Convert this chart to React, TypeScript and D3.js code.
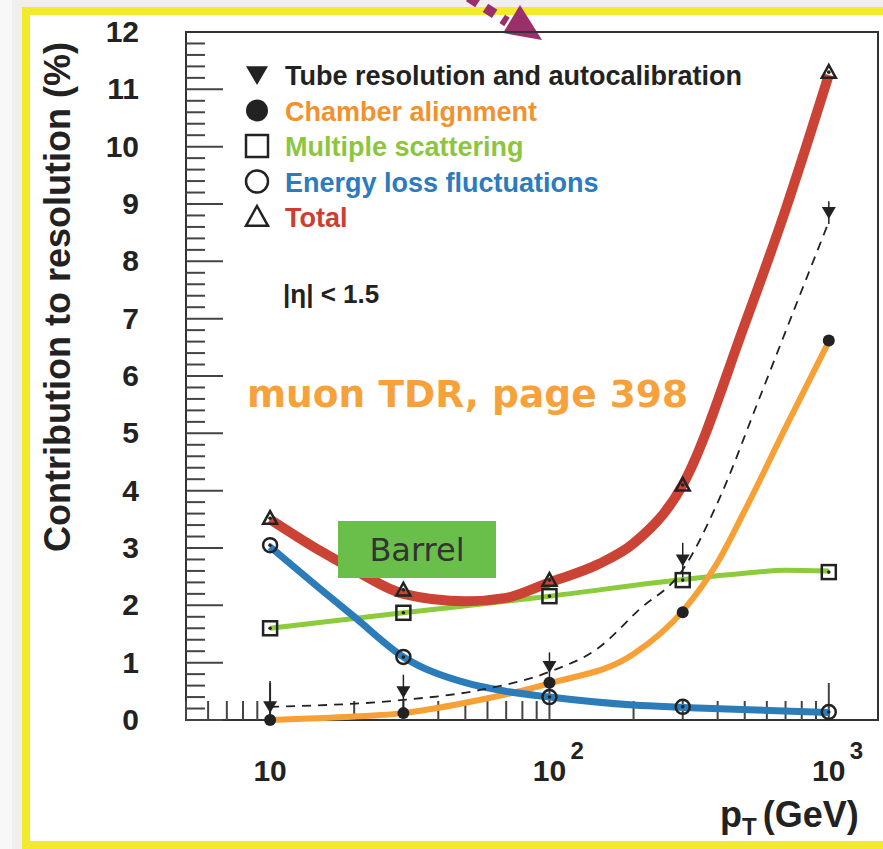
import React from "react";
import * as d3 from "d3";

// chart values
const ptPoints = [10, 30, 100, 300, 1000];
const tubeValues = [0.23, 0.49, 0.93, 2.79, 8.85];
const chamberValues = [0.0, 0.12, 0.65, 1.88, 6.62];
const scatterValues = [1.6, 1.87, 2.16, 2.44, 2.58];
const elossValues = [3.05, 1.1, 0.4, 0.23, 0.14];
const totalValues = [3.52, 2.27, 2.44, 4.1, 11.3];

const tubeErr = [0.45, 0.3, 0.25, 0.3, 0.2];

// fitted curves, as drawn
const tubeCurvePt = [10, 30, 56, 100, 150, 209, 300, 404, 561, 776, 1000];
const tubeCurveVal = [0.23, 0.35, 0.52, 0.84, 1.26, 1.92, 2.62, 3.84, 5.58, 7.33, 8.69];
const totalCurvePt = [10, 15, 20, 30, 50, 70, 100, 150, 200, 300, 500, 700, 1000];
const totalCurveVal = [3.5, 2.96, 2.62, 2.2, 2.07, 2.13, 2.4, 2.72, 3.08, 4.1, 6.9, 8.9, 11.25];
const chamberCurvePt = [10, 20, 30, 50, 100, 200, 300, 400, 500, 700, 1000];
const chamberCurveVal = [0.0, 0.06, 0.12, 0.3, 0.64, 1.15, 1.9, 2.75, 3.65, 5.1, 6.6];
const scatterCurvePt = [10, 30, 100, 300, 500, 700, 1000];
const scatterCurveVal = [1.6, 1.87, 2.16, 2.45, 2.56, 2.61, 2.6];
const elossCurvePt = [10, 15, 20, 30, 50, 70, 100, 200, 300, 1000];
const elossCurveVal = [3.02, 2.3, 1.8, 1.1, 0.65, 0.5, 0.4, 0.26, 0.22, 0.13];

const yTicks = d3.range(0, 13);
const legendLabels = [
  "Tube resolution and autocalibration",
  "Chamber alignment",
  "Multiple scattering",
  "Energy loss fluctuations",
  "Total",
];
const legendColors = ["#222222", "#f0922e", "#8cc63f", "#2b7bbd", "#c9402f"];

const W = 883;
const H = 849;
const left = 186, right = 878, top = 32, bottom = 720;
const font = "'Liberation Sans', Arial, Helvetica, sans-serif";
const comic = "'Comic Sans MS', 'DejaVu Sans', sans-serif";

function Marker({ kind, cx, cy, s }: { kind: string; cx: number; cy: number; s: number }) {
  const h = s / 2;
  if (kind === "down")
    return <path d={`M${cx - h},${cy - h * 0.8}L${cx + h},${cy - h * 0.8}L${cx},${cy + h * 0.9}Z`} fill="#222" />;
  if (kind === "dot") return <circle cx={cx} cy={cy} r={h} fill="#222" />;
  if (kind === "square")
    return <rect x={cx - h} y={cy - h} width={s} height={s} fill="none" stroke="#222" strokeWidth={2.5} />;
  if (kind === "circle") return <circle cx={cx} cy={cy} r={h} fill="none" stroke="#222" strokeWidth={2.5} />;
  return <path d={`M${cx},${cy - h}L${cx + h},${cy + h * 0.8}L${cx - h},${cy + h * 0.8}Z`} fill="none" stroke="#222" strokeWidth={2.5} />;
}

export default function App() {
  const x = d3.scaleLog().domain([5, 1500]).range([left, right]);
  const y = d3.scaleLinear().domain([0, 12]).range([bottom, top]);

  const line = d3
    .line<[number, number]>()
    .x((d) => x(d[0]))
    .y((d) => y(d[1]))
    .curve(d3.curveMonotoneX);
  const zip = (a: number[], b: number[]) => a.map((v, i) => [v, b[i]] as [number, number]);

  const xTicks = x.ticks().filter((t) => t >= 5 && t <= 1500);
  const yMinor = d3.range(0, 60).map((i) => i * 0.2);
  const isMajor = (t: number) => Math.abs(Math.log10(t) - Math.round(Math.log10(t))) < 1e-6;

  const series = [
    { kind: "down", vals: tubeValues },
    { kind: "dot", vals: chamberValues },
    { kind: "square", vals: scatterValues },
    { kind: "circle", vals: elossValues },
    { kind: "up", vals: totalValues },
  ];

  return (
    <svg width={W} height={H} style={{ position: "absolute", left: 0, top: 0 }} fontFamily={font}>
      <rect width={W} height={H} fill="#f0efed" />
      <rect x={0} y={0} width={12} height={H} fill="#f8f8f8" />
      <rect x={26} y={11} width={W} height={834} fill="#fff" stroke="#f2ea2c" strokeWidth={8} />

      {/* arrow on top */}
      <line x1={452} y1={-14} x2={507} y2={22} stroke="#9b2f6a" strokeWidth={10} strokeDasharray="11 9" />
      <path d="M520,5L503,33L542,40Z" fill="#9b2f6a" />

      {/* frame */}
      <rect x={left} y={top} width={right - left} height={bottom - top} fill="none" stroke="#333" strokeWidth={2} />

      {/* y ticks */}
      {yMinor.map((t) => (
        <line key={"ym" + t} x1={left} x2={left + (Math.abs(t - Math.round(t)) < 1e-6 ? 37 : 19)} y1={y(t)} y2={y(t)} stroke="#444" strokeWidth={2} />
      ))}
      {yTicks.map((t) => (
        <text key={"yl" + t} x={139} y={y(t) + 10} textAnchor="end" fontSize={30} fontWeight="bold" fill="#222">
          {t}
        </text>
      ))}

      {/* x ticks */}
      {xTicks.map((t) => (
        <line key={"xt" + t} x1={x(t)} x2={x(t)} y1={bottom} y2={bottom - (isMajor(t) ? 37 : 19)} stroke="#444" strokeWidth={2} />
      ))}
      <text x={x(10)} y={781} textAnchor="middle" fontSize={30} fontWeight="bold" fill="#222">10</text>
      {[100, 1000].map((t) => (
        <g key={"xl" + t}>
          <text x={x(t)} y={781} textAnchor="middle" fontSize={30} fontWeight="bold" fill="#222">10</text>
          <text x={x(t) + 21} y={759} fontSize={24} fontWeight="bold" fill="#222">{Math.round(Math.log10(t))}</text>
        </g>
      ))}

      {/* axis titles */}
      <text transform="translate(70,297) rotate(-90)" textAnchor="middle" fontSize={36} fontWeight="bold" fill="#222">
        Contribution to resolution (%)
      </text>
      <text x={720} y={827} fontSize={36} fontWeight="bold" fill="#222">
        p<tspan fontSize={24} dy={8}>T</tspan>
        <tspan dy={-8} dx={6}>(GeV)</tspan>
      </text>

      {/* curves */}
      <path d={line(zip(scatterCurvePt, scatterCurveVal)) || ""} fill="none" stroke="#8ccb3c" strokeWidth={5} />
      <path d={line(zip(chamberCurvePt, chamberCurveVal)) || ""} fill="none" stroke="#f7a035" strokeWidth={6} />
      <path d={line(zip(elossCurvePt, elossCurveVal)) || ""} fill="none" stroke="#2b7cb9" strokeWidth={7} />
      <path d={line(zip(tubeCurvePt, tubeCurveVal)) || ""} fill="none" stroke="#222" strokeWidth={1.8} strokeDasharray="9 7" />
      <path d={line(zip(totalCurvePt, totalCurveVal)) || ""} fill="none" stroke="#cb4335" strokeWidth={10} />

      {/* error bars on tube points */}
      {ptPoints.map((p, i) => (
        <line key={"eb" + i} x1={x(p)} x2={x(p)} y1={y(Math.max(0, tubeValues[i] - tubeErr[i]))} y2={y(tubeValues[i] + tubeErr[i])} stroke="#222" strokeWidth={1.5} />
      ))}

      {/* markers */}
      {series.map((s) =>
        ptPoints.map((p, i) => (
          <g key={s.kind + i}>
            <Marker kind={s.kind} cx={x(p)} cy={y(s.vals[i])} s={s.kind === "dot" ? 12 : 14} />
            <circle cx={x(p)} cy={y(s.vals[i])} r={1.8} fill="#222" />
          </g>
        ))
      )}

      {/* legend */}
      {legendLabels.map((l, i) => (
        <g key={l}>
          <Marker kind={series[i].kind} cx={257} cy={75 + i * 35.5} s={22} />
          <text x={285} y={75 + i * 35.5 + 10} fontSize={27} fontWeight="bold" fill={legendColors[i]}>
            {l}
          </text>
        </g>
      ))}

      <text x={283} y={303} fontSize={26} fontWeight="bold" fill="#222">|η| &lt; 1.5</text>

      <text x={247} y={407} fontSize={38} fontWeight="bold" fill="#f7a13a" fontFamily={comic} textLength={441} lengthAdjust="spacingAndGlyphs">
        muon TDR, page 398
      </text>

      <rect x={338} y={521} width={158} height={57} fill="#6abf4b" />
      <text x={417} y={561} textAnchor="middle" fontSize={32} fill="#333" fontFamily={comic}>Barrel</text>
    </svg>
  );
}
